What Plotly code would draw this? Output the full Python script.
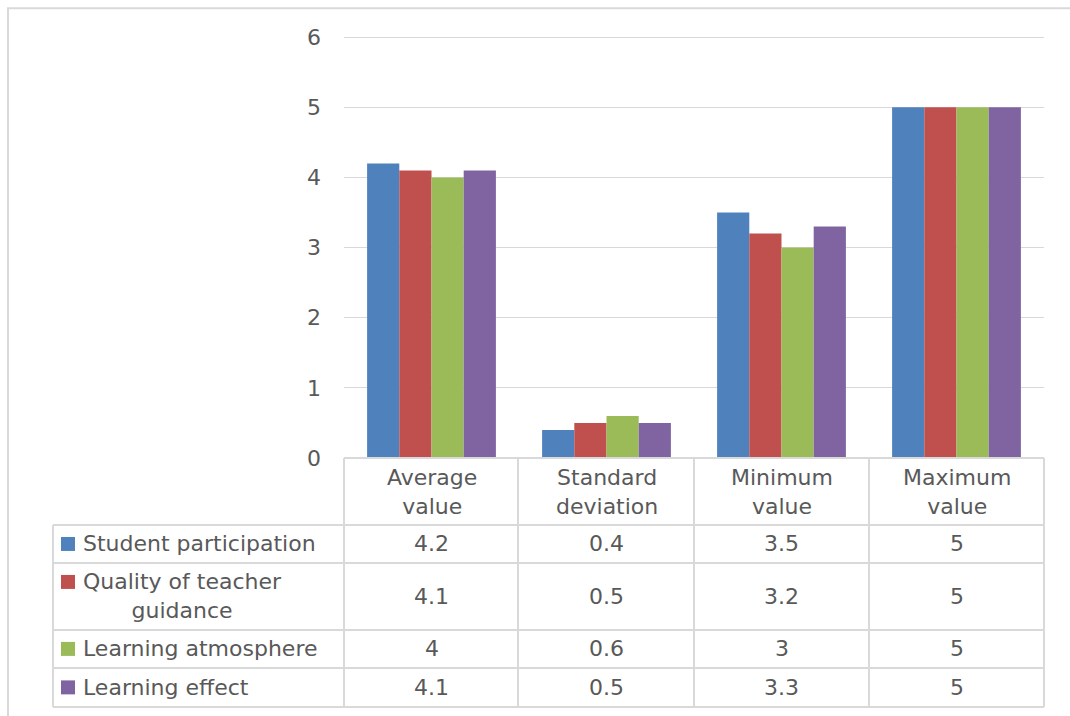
import plotly.graph_objects as go

# Statistics shown on the category axis
categories = ["Average value", "Standard deviation", "Minimum value", "Maximum value"]

# Evaluation dimensions (series) and their values per statistic
series_names = [
    "Student participation",
    "Quality of teacher guidance",
    "Learning atmosphere",
    "Learning effect",
]
student_participation = [4.2, 0.4, 3.5, 5]
teacher_guidance = [4.1, 0.5, 3.2, 5]
learning_atmosphere = [4, 0.6, 3, 5]
learning_effect = [4.1, 0.5, 3.3, 5]

series_values = [student_participation, teacher_guidance, learning_atmosphere, learning_effect]
series_labels = ["Student participation", "Quality of teacher<br>guidance",
                 "Learning atmosphere", "Learning effect"]
colors = ["#4F81BD", "#C0504D", "#9BBB59", "#8064A2"]

W, H = 1070, 716
Y_MAX = 6.06                      # a little headroom so the top gridline is drawn
UNIT = (458 - 37) / 6             # pixels per value unit
L, R, B = 344, 26, 258
T = 458 - Y_MAX * UNIT
PW, PH = W - L - R, H - T - B
TXT = "#595959"
GRID = "#D9D9D9"
FONT = "DejaVu Sans"
FS = 22


def px(x):
    return (x - L) / PW


def py(y):
    return (H - B - y) / PH


fig = go.Figure()
for name, vals, col in zip(series_names, series_values, colors):
    fig.add_trace(go.Bar(
        x=categories, y=vals, name=name,
        marker=dict(color=col, line=dict(width=0)),
        showlegend=False,
    ))

shapes = []
annotations = []

# outer chart border
shapes.append(dict(type="rect", xref="paper", yref="paper",
                   x0=px(8), x1=px(W + 20), y0=py(H + 20), y1=py(8),
                   line=dict(color=GRID, width=2), fillcolor="rgba(0,0,0,0)", layer="below"))

# data table grid
row_lines = [458, 525, 563, 630, 668, 707]
col_lines = [344, 518, 694, 869, 1044]
table_left = 53
for i, y in enumerate(row_lines):
    x0 = L if i == 0 else table_left
    shapes.append(dict(type="line", xref="paper", yref="paper",
                       x0=px(x0), x1=px(1044), y0=py(y), y1=py(y),
                       line=dict(color=GRID, width=2)))
for x in col_lines:
    shapes.append(dict(type="line", xref="paper", yref="paper",
                       x0=px(x), x1=px(x), y0=py(458), y1=py(707),
                       line=dict(color=GRID, width=2)))
shapes.append(dict(type="line", xref="paper", yref="paper",
                   x0=px(table_left), x1=px(table_left), y0=py(525), y1=py(707),
                   line=dict(color=GRID, width=2)))

# header row: category names
for cat in categories:
    annotations.append(dict(x=cat, xref="x", y=py(492), yref="paper",
                            text=cat.replace(" ", "<br>"), showarrow=False,
                            xanchor="center", yanchor="middle", align="center",
                            font=dict(family=FONT, size=FS, color=TXT)))

# body rows: legend key, series label and values
for r, (label, vals, col) in enumerate(zip(series_labels, series_values, colors)):
    top, bot = row_lines[r + 1], row_lines[r + 2]
    yc = (top + bot) / 2
    if "<br>" in label:
        k0, k1 = top + 12, top + 26
    else:
        k0, k1 = yc - 7, yc + 7
    shapes.append(dict(type="rect", xref="paper", yref="paper",
                       x0=px(61), x1=px(75), y0=py(k1), y1=py(k0),
                       fillcolor=col, line=dict(width=0)))
    annotations.append(dict(x=px(81), xref="paper", y=py(yc), yref="paper",
                            text=label, showarrow=False, xanchor="left", yanchor="middle",
                            align="center", font=dict(family=FONT, size=FS, color=TXT)))
    for cat, v in zip(categories, vals):
        annotations.append(dict(x=cat, xref="x", y=py(yc), yref="paper",
                                text=f"{v:g}", showarrow=False,
                                xanchor="center", yanchor="middle",
                                font=dict(family=FONT, size=FS, color=TXT)))

fig.update_layout(
    width=W, height=H,
    margin=dict(l=L, r=R, t=T, b=B, pad=0),
    paper_bgcolor="white", plot_bgcolor="white",
    barmode="group", bargap=0.264, bargroupgap=0,
    font=dict(family=FONT, size=FS, color=TXT),
    shapes=shapes, annotations=annotations,
    xaxis=dict(showticklabels=False, showgrid=False, zeroline=False,
               showline=False, ticks=""),
    yaxis=dict(range=[0, Y_MAX], tickvals=[0, 1, 2, 3, 4, 5, 6],
               showgrid=True, gridcolor=GRID, gridwidth=1,
               zeroline=False, showline=False, ticks="",
               tickfont=dict(family=FONT, size=FS, color=TXT),
               ticklabelstandoff=22),
)

fig.write_html("out.html")
